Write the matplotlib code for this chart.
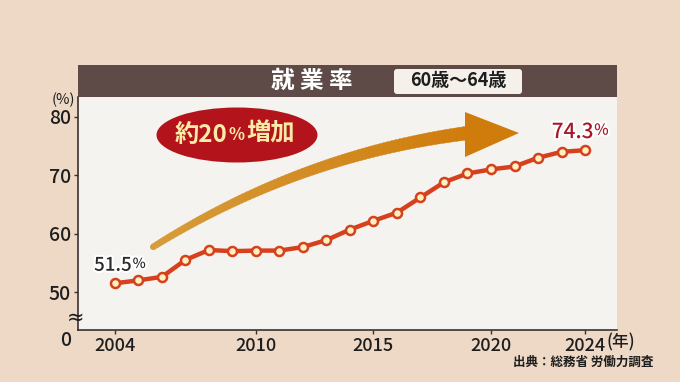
import matplotlib
matplotlib.use("Agg")
import matplotlib.pyplot as plt
import matplotlib.patches as mpatches
import matplotlib.patheffects as pe
from matplotlib.transforms import Affine2D
import numpy as np

plt.rcParams['font.family'] = ['Noto Sans CJK JP', 'DejaVu Sans']

years = [2004, 2005, 2006, 2007, 2008, 2009, 2010, 2011, 2012, 2013, 2014,
         2015, 2016, 2017, 2018, 2019, 2020, 2021, 2022, 2023, 2024]
rates = [51.5, 52.0, 52.6, 55.5, 57.2, 57.0, 57.1, 57.1, 57.7, 58.9, 60.7,
         62.2, 63.6, 66.2, 68.8, 70.3, 71.0, 71.5, 73.0, 74.0, 74.3]
xticks = [2004, 2010, 2015, 2020, 2024]
yticks = [50, 60, 70, 80]
title = "就 業 率"
subtitle = "60歳〜64歳"
source = "出典：総務省 労働力調査"

W, H = 680, 382
BG = "#EED9C6"
PANEL = "#F5F3EF"
HEADER = "#5E4B47"
TXT = "#1E1E1E"

fig = plt.figure(figsize=(W / 100, H / 100), dpi=100, facecolor=BG)
px = Affine2D().scale(1 / W, 1 / H) + fig.transFigure  # pixel coords (y up)

def P(x, y):
    return (x, H - y)

L, R, T, B = 78, 617, 97, 330
ax = fig.add_axes([L / W, (H - B) / H, (R - L) / W, (B - T) / H])
ax.set_facecolor(PANEL)
ax.set_xlim(2002.43, 2025.36)
ax.set_ylim(43.5, 83.4)
for s in ['top', 'right']:
    ax.spines[s].set_visible(False)
for s in ['left', 'bottom']:
    ax.spines[s].set_color("#3A3030")
    ax.spines[s].set_linewidth(1.2)
ax.set_xticks(xticks)
ax.set_xticklabels([str(v) for v in xticks], fontsize=13, color=TXT, fontweight='medium')
ax.set_yticks(yticks)
ax.set_yticklabels([str(v) for v in yticks], fontsize=14, color=TXT, fontweight='medium')
ax.tick_params(axis='both', length=3, width=1, color="#3A3030", pad=2)

# header band
fig.add_artist(mpatches.Rectangle(P(L, 97), R - L, 32, transform=px,
                                  facecolor=HEADER, edgecolor='none'))
fig.text(312 / W, (H - 81) / H, title, color="white", fontsize=17,
         fontweight='bold', ha='center', va='center')
box = mpatches.FancyBboxPatch(P(394, 94), 128, 25, transform=px,
                              boxstyle="round,pad=0,rounding_size=3",
                              facecolor="#F5F1EA", edgecolor='none')
fig.add_artist(box)
fig.text(458 / W, (H - 81) / H, subtitle, color=TXT, fontsize=13,
         fontweight='bold', ha='center', va='center')

# curved tapered arrow (gradient), drawn inside the axes in pixel coords
p0 = np.array([153.0, 247.0])
c1 = np.array([300.0, 155.0])
p1 = np.array([468.0, 133.0])
t = np.linspace(0, 1, 80)
pts = ((1 - t)[:, None] ** 2) * p0 + (2 * (1 - t) * t)[:, None] * c1 + (t ** 2)[:, None] * p1
d = np.gradient(pts, axis=0)
nrm = np.stack([-d[:, 1], d[:, 0]], axis=1)
nrm /= np.linalg.norm(nrm, axis=1)[:, None]
wid = 3 + 3.8 * t
upper = pts + nrm * wid[:, None]
lower = pts - nrm * wid[:, None]
c_start = np.array([0xD6, 0x9C, 0x3A]) / 255
c_end = np.array([0xD0, 0x7C, 0x0C]) / 255
for i in range(len(t) - 1):
    poly = np.array([upper[i], upper[i + 1] + (upper[i + 1] - upper[i]) * 0.1,
                     lower[i + 1] + (lower[i + 1] - lower[i]) * 0.1, lower[i]])
    poly[:, 1] = H - poly[:, 1]
    col = c_start + (c_end - c_start) * t[i]
    ax.add_patch(mpatches.Polygon(poly, closed=True, transform=px, zorder=2,
                                  facecolor=col, edgecolor=col, linewidth=0.3))
ax.add_patch(mpatches.Circle(P(*p0), 3, transform=px, facecolor=c_start,
                             edgecolor='none', zorder=2))
head = np.array([[465, 112], [519, 133], [465, 157]], dtype=float)
head[:, 1] = H - head[:, 1]
ax.add_patch(mpatches.Polygon(head, closed=True, transform=px, zorder=2,
                              facecolor=c_end, edgecolor='none'))

# badge ellipse
ax.add_patch(mpatches.Ellipse(P(237, 135), 161, 55, transform=px, zorder=3,
                              facecolor="#B3141B", edgecolor='none'))
BADGE = "#FCEAA8"
t1 = ax.text(175, H - 135, "約20", transform=px, color=BADGE, fontsize=17.5,
             fontweight='bold', ha='left', va='center', zorder=6)
a2 = ax.annotate("%", xy=(1, 0.13), xycoords=t1, xytext=(0.5, 0), textcoords='offset points',
                 color=BADGE, fontsize=12, fontweight='bold', ha='left', va='bottom',
                 annotation_clip=False, zorder=6)
ax.annotate("増加", xy=(1, 0), xycoords=a2, xytext=(1, -1.2), textcoords='offset points',
            color=BADGE, fontsize=17.5, fontweight='bold', ha='left', va='bottom',
            annotation_clip=False, zorder=6)

# data line
ax.plot(years, rates, color="#D6401C", linewidth=3.2, zorder=4,
        solid_capstyle='round', solid_joinstyle='round',
        marker='o', markersize=6.5, markerfacecolor="#FFF0C0",
        markeredgecolor="#D6401C", markeredgewidth=1.8)

stroke = [pe.withStroke(linewidth=3, foreground="white")]
n1 = ax.annotate("51.5", (years[0], rates[0]), xytext=(-15, 13), textcoords='offset points',
                 fontsize=13.5, color="#2A2A2A", ha='left', va='center', path_effects=stroke,
                 fontweight='medium', zorder=6)
ax.annotate("%", xy=(1, 0.2), xycoords=n1, xytext=(0.5, 0), textcoords='offset points',
            fontsize=10, color="#2A2A2A", ha='left', va='bottom', path_effects=stroke,
            fontweight='medium', annotation_clip=False, zorder=6)
n2 = ax.annotate("74.3", (years[-1], rates[-1]), xytext=(-24, 13), textcoords='offset points',
                 fontsize=15, color="#A8162A", ha='left', va='center', path_effects=stroke,
                 fontweight='medium', zorder=6)
ax.annotate("%", xy=(1, 0.2), xycoords=n2, xytext=(0.5, 0), textcoords='offset points',
            fontsize=11, color="#A8162A", ha='left', va='bottom', path_effects=stroke,
            fontweight='medium', annotation_clip=False, zorder=6)

# axis extras
fig.text(63 / W, (H - 100) / H, "(%)", fontsize=10.5, color=TXT, ha='center', va='center')
fig.text(66 / W, (H - 340) / H, "0", fontsize=14, color=TXT, ha='center', va='center',
         fontweight='medium')
fig.text(76 / W, (H - 318) / H, "≈", fontsize=15, color=TXT, ha='center', va='center',
         family=['DejaVu Sans'])
fig.text(606 / W, (H - 342) / H, "(年)", fontsize=12, color=TXT, ha='left', va='center',
         fontweight='medium')
fig.text(583 / W, (H - 362) / H, source, fontsize=9, fontweight='bold',
         color=TXT, ha='center', va='center')

fig.savefig("out.png", dpi=100, facecolor=BG)
